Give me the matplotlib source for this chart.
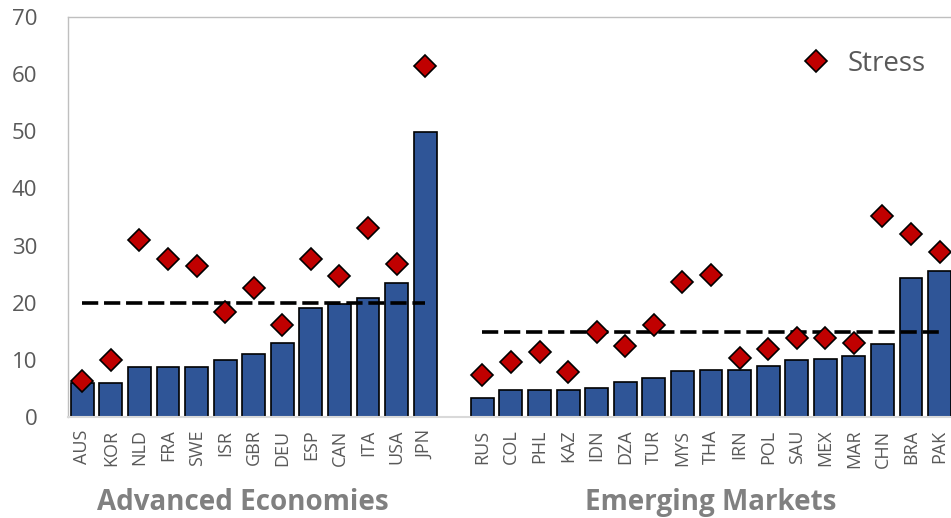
import numpy as np
import matplotlib.pyplot as plt
from matplotlib.lines import Line2D

plt.rcParams['font.family'] = ['Open Sans', 'DejaVu Sans']

# advanced economies
ae_names = ["AUS", "KOR", "NLD", "FRA", "SWE", "ISR", "GBR", "DEU", "ESP", "CAN", "ITA", "USA", "JPN"]
ae_base = [6.0, 5.9, 8.8, 8.8, 8.8, 9.9, 11.0, 12.9, 19.1, 19.8, 20.9, 23.5, 49.8]
ae_stress = [6.3, 9.9, 30.9, 27.6, 26.5, 18.3, 22.5, 16.1, 27.6, 24.6, 33.0, 26.7, 61.5]
ae_avg = 20.0

# emerging markets
em_names = ["RUS", "COL", "PHL", "KAZ", "IDN", "DZA", "TUR", "MYS", "THA", "IRN", "POL", "SAU",
            "MEX", "MAR", "CHN", "BRA", "PAK"]
em_base = [3.3, 4.7, 4.7, 4.7, 5.0, 6.1, 6.9, 8.0, 8.2, 8.2, 9.0, 9.9, 10.2, 10.7, 12.8, 24.3, 25.6]
em_stress = [7.4, 9.6, 11.3, 7.8, 14.8, 12.5, 16.1, 23.7, 24.9, 10.4, 11.9, 13.9, 13.8, 12.9,
             35.2, 32.1, 28.9]
em_avg = 14.8

bar_col = "#2F5597"
dia_col = "#C00000"
txt_col = "#595959"

x_ae = np.arange(len(ae_names))
x_em = np.arange(len(em_names)) + len(ae_names) + 1

fig = plt.figure(figsize=(9.51, 5.18), dpi=100)
ax = fig.add_axes([68 / 951, 101 / 518, 1 - 68 / 951, 400 / 518])

ax.bar(x_ae, ae_base, width=0.8, color=bar_col, edgecolor="black", linewidth=1.2, zorder=2)
ax.bar(x_em, em_base, width=0.8, color=bar_col, edgecolor="black", linewidth=1.2, zorder=2)

ax.plot([x_ae[0], x_ae[-1]], [ae_avg, ae_avg], color="black", lw=2.6, ls=(0, (4.5, 1.6)),
        zorder=3)
ax.plot([x_em[0], x_em[-1]], [em_avg, em_avg], color="black", lw=2.6, ls=(0, (4.5, 1.6)),
        zorder=3)

ax.plot(x_ae, ae_stress, ls="none", marker="D", ms=11, mfc=dia_col, mec="black", mew=1.2,
        zorder=4)
ax.plot(x_em, em_stress, ls="none", marker="D", ms=11, mfc=dia_col, mec="black", mew=1.2,
        zorder=4)

ax.set_ylim(0, 70)
ax.set_xlim(-0.5, 30.4)
ax.set_yticks(range(0, 71, 10))
ax.set_xticks(list(x_ae) + list(x_em))
ax.set_xticklabels(ae_names + em_names, rotation=90, fontsize=13, color=txt_col)
ax.tick_params(axis="y", labelsize=16, labelcolor=txt_col, length=0, pad=22)
ax.tick_params(axis="x", length=0, pad=9)

for s in ["left", "top"]:
    ax.spines[s].set_color("#BFBFBF")
    ax.spines[s].set_linewidth(1.0)
ax.spines["bottom"].set_color("#D9D9D9")
ax.spines["bottom"].set_linewidth(1.5)
ax.spines["right"].set_visible(False)

# group captions under the country codes
trans = ax.get_xaxis_transform()
ax.text(5.6, -0.213, "Advanced Economies", transform=trans, ha="center", va="center",
        fontsize=20, fontweight="bold", color="#808080")
ax.text(22.0, -0.213, "Emerging Markets", transform=trans, ha="center", va="center",
        fontsize=20, fontweight="bold", color="#808080")

handle = Line2D([], [], ls="none", marker="D", ms=11, mfc=dia_col, mec="black", mew=1.2)
ax.legend([handle], ["Stress"], loc="upper right", bbox_to_anchor=(1.0, 0.98), frameon=False,
          fontsize=20, labelcolor=txt_col, handletextpad=0.15)

fig.savefig("out.png", dpi=100)
